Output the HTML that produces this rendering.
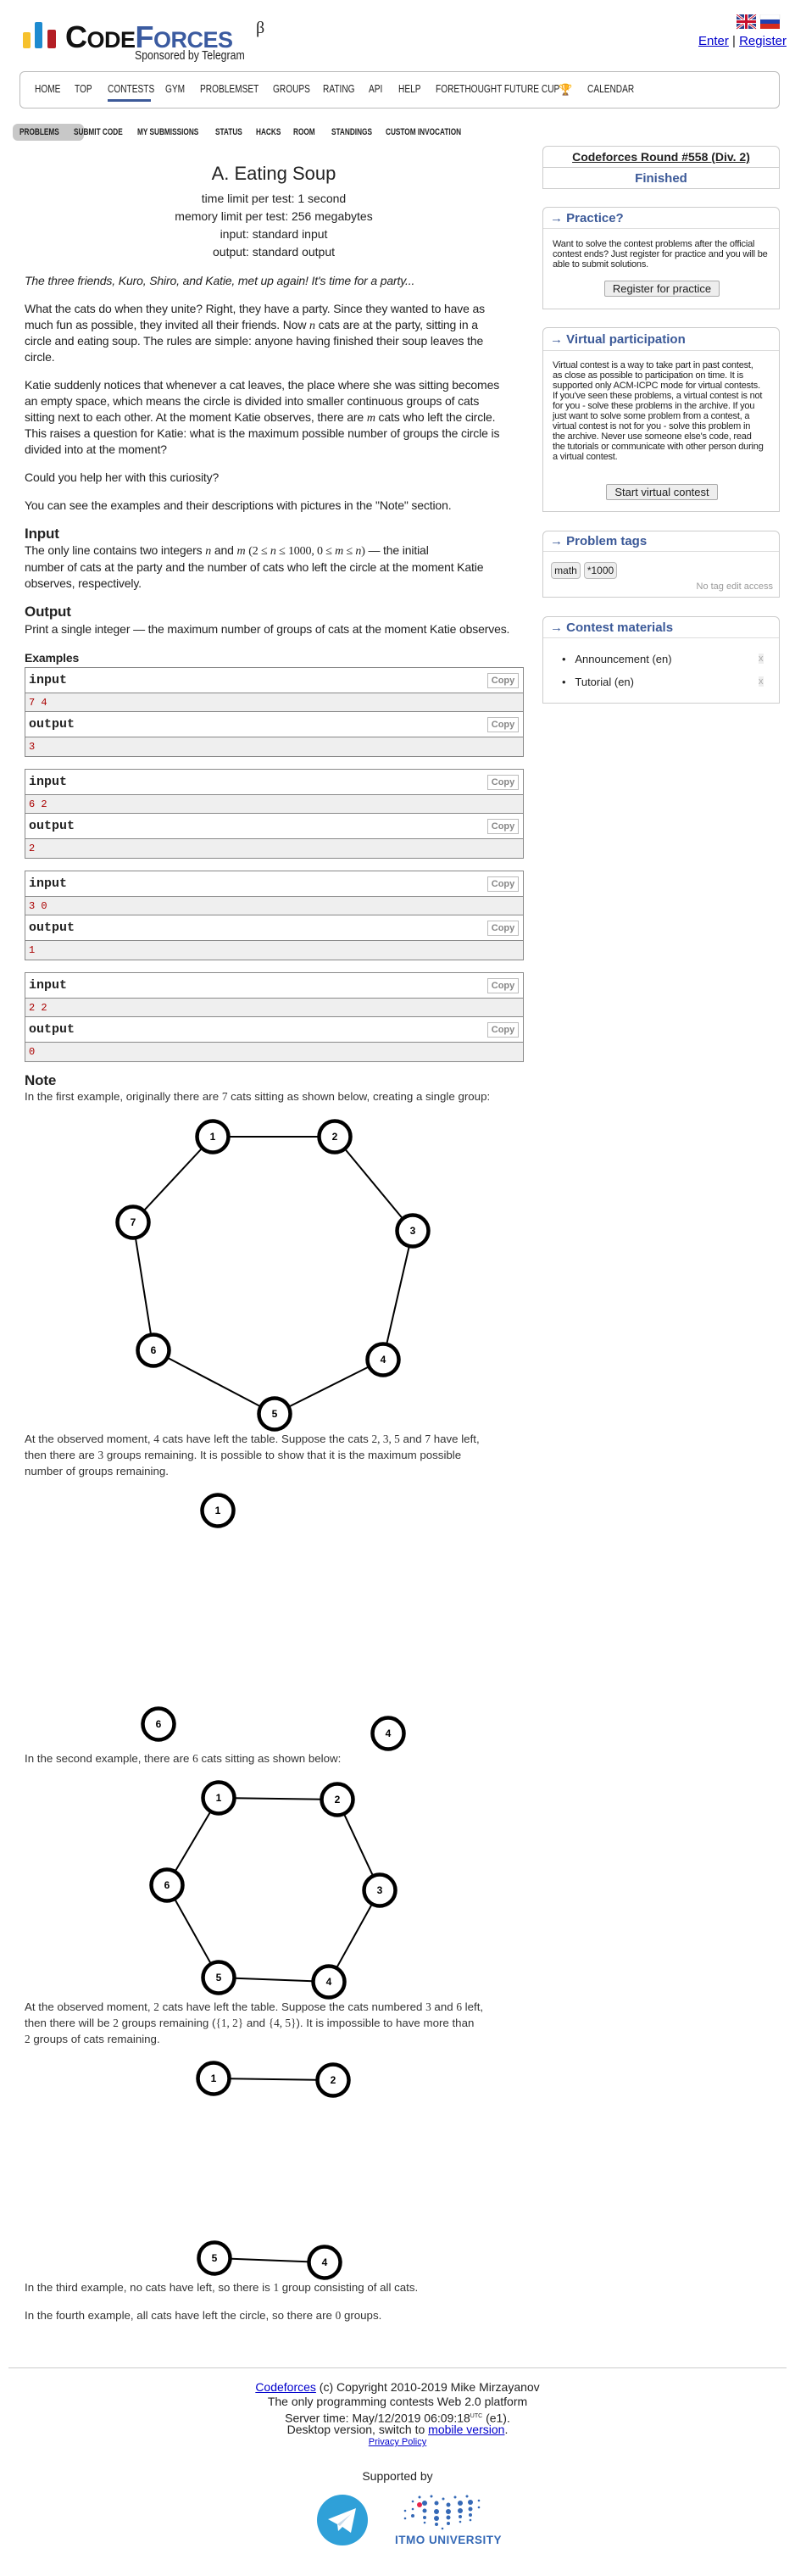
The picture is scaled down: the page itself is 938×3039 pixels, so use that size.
<!DOCTYPE html>
<html><head><meta charset="utf-8">
<style>
*{margin:0;padding:0;box-sizing:border-box}
body{width:938px;height:3039px;position:relative;background:#fff;font-family:"Liberation Sans",Arial,sans-serif;color:#222;overflow:hidden}
.t{position:absolute;white-space:nowrap;line-height:20px;height:20px}
.m{font-size:14px;letter-spacing:-0.15px;left:29px}
.n{font-size:13.3px;left:29px;color:#333}
.i{font-family:"Liberation Serif",serif;font-style:italic}
.r{font-family:"Liberation Serif",serif}
.menu{position:absolute;top:97px;font-size:13px;transform:scaleX(.78);transform-origin:left;color:#222;white-space:nowrap}
.sub{position:absolute;top:150px;font-size:11px;font-weight:bold;transform:scaleX(.75);transform-origin:left;color:#222;white-space:nowrap}
.box{position:absolute;left:640px;width:280px;border:1px solid #ccc;border-radius:6px 6px 0 0;background:#fff}
.bh{border-bottom:1px solid #ddd;color:#3b5998;font-weight:bold;font-size:15px;padding-left:8px;transform-origin:left}
.sm{font-size:11px;line-height:12px;color:#222;letter-spacing:-0.2px}
.btn{position:absolute;border:1px solid #aaa;background:#eee;font-size:13px;text-align:center;border-radius:2px}
.ex{position:absolute;left:29px;width:589px;border:1px solid #888}
.ex .h{height:30px;background:#fff;border-bottom:1px solid #888;position:relative;font-family:"Liberation Mono",monospace;font-weight:bold;font-size:15px;line-height:30px;padding-left:4px}
.ex .d{height:22px;background:#efefef;border-bottom:1px solid #888;font-family:"Liberation Mono",monospace;font-size:12px;color:#a00;line-height:22px;padding-left:4px}
.ex .d.l{border-bottom:none}
.cp{position:absolute;right:5px;top:6px;width:37px;height:18px;border:1px solid #bbb;font-size:11px;line-height:16px;color:#888;text-align:center;font-family:"Liberation Sans",sans-serif;font-weight:bold}
a{color:#00c}
.ft{position:absolute;left:0;width:938px;text-align:center;font-size:14px;line-height:17px;color:#222}
</style></head><body>

<!-- logo -->
<div style="position:absolute;left:27px;top:38px;width:9px;height:19px;background:#f6c12d;border-radius:2px"></div>
<div style="position:absolute;left:41px;top:26px;width:9px;height:31px;background:#1e8bd0;border-radius:2px"></div>
<div style="position:absolute;left:56px;top:35px;width:10px;height:22px;background:#b41e25;border-radius:2px"></div>
<div style="position:absolute;left:77px;top:26px;font-weight:bold;white-space:nowrap;line-height:36px;letter-spacing:-0.5px"><span style="font-size:36px;color:#111">C</span><span style="font-size:27px;color:#111">ODE</span><span style="font-size:36px;color:#3b5ba0">F</span><span style="font-size:27px;color:#3b5ba0">ORCES</span></div>
<div style="position:absolute;left:302px;top:22px;font-size:20px;font-family:'Liberation Serif',serif">β</div>
<div style="position:absolute;left:159px;top:57px;font-size:15px;transform:scaleX(.82);transform-origin:left;white-space:nowrap">Sponsored by Telegram</div>

<!-- flags -->
<svg style="position:absolute;left:869px;top:17px" width="52" height="18">
<rect x="0" y="0" width="23" height="17" fill="#2a3f8c"/><path d="M0 0L23 17M23 0L0 17" stroke="#fff" stroke-width="3"/><path d="M0 0L23 17M23 0L0 17" stroke="#c8102e" stroke-width="1"/><rect x="9" y="0" width="5" height="17" fill="#fff"/><rect x="0" y="6" width="23" height="5" fill="#fff"/><rect x="10" y="0" width="3" height="17" fill="#c8102e"/><rect x="0" y="7" width="23" height="3" fill="#c8102e"/>
<rect x="28" y="0" width="23" height="6" fill="#fff" stroke="#ddd" stroke-width=".5"/><rect x="28" y="6" width="23" height="5" fill="#2040b0"/><rect x="28" y="11" width="23" height="6" fill="#d52b1e"/>
</svg>
<div class="t" style="left:824px;top:39px;font-size:15px"><a href="#">Enter</a> | <a href="#">Register</a></div>

<!-- main menu -->
<div style="position:absolute;left:23px;top:84px;width:897px;height:44px;border:1px solid #bbb;border-radius:6px"></div>
<div class="menu" style="left:41px">HOME</div>
<div class="menu" style="left:88px">TOP</div>
<div class="menu" style="left:127px">CONTESTS</div>
<div style="position:absolute;left:127px;top:117px;width:51px;height:3px;background:#3b5998"></div>
<div class="menu" style="left:195px">GYM</div>
<div class="menu" style="left:236px">PROBLEMSET</div>
<div class="menu" style="left:322px">GROUPS</div>
<div class="menu" style="left:381px">RATING</div>
<div class="menu" style="left:435px">API</div>
<div class="menu" style="left:470px">HELP</div>
<div class="menu" style="left:514px">FORETHOUGHT FUTURE CUP</div>
<div style="position:absolute;left:659px;top:98px;font-size:13px;color:#c9a227">🏆</div>
<div class="menu" style="left:693px">CALENDAR</div>

<!-- submenu -->
<div style="position:absolute;left:15px;top:146px;width:84px;height:20px;background:#c8c8c8;border-radius:6px"></div>
<div class="sub" style="left:23px">PROBLEMS</div>
<div class="sub" style="left:87px">SUBMIT CODE</div>
<div class="sub" style="left:162px">MY SUBMISSIONS</div>
<div class="sub" style="left:254px">STATUS</div>
<div class="sub" style="left:302px">HACKS</div>
<div class="sub" style="left:346px">ROOM</div>
<div class="sub" style="left:391px">STANDINGS</div>
<div class="sub" style="left:455px">CUSTOM INVOCATION</div>

<!-- right column -->
<div class="box" style="top:172px;height:51px">
 <div style="height:25px;border-bottom:1px solid #ccc;text-align:center;font-weight:bold;font-size:14px;line-height:24px;text-decoration:underline">Codeforces Round #558 (Div. 2)</div>
 <div style="text-align:center;color:#3b5998;font-weight:bold;font-size:15px;line-height:25px">Finished</div>
</div>
<div class="box" style="top:244px;height:121px">
 <div class="bh" style="height:25px;line-height:25px">→ Practice?</div>
 <div class="sm" style="position:absolute;left:11px;top:37px;width:262px">Want to solve the contest problems after the official contest ends? Just register for practice and you will be able to submit solutions.</div>
 <div class="btn" style="left:72px;top:86px;width:136px;height:19px;line-height:17px">Register for practice</div>
</div>
<div class="box" style="top:386px;height:218px">
 <div class="bh" style="height:27px;line-height:27px">→ Virtual participation</div>
 <div class="sm" style="position:absolute;left:11px;top:38px;width:250px">Virtual contest is a way to take part in past contest, as close as possible to participation on time. It is supported only ACM-ICPC mode for virtual contests. If you've seen these problems, a virtual contest is not for you - solve these problems in the archive. If you just want to solve some problem from a contest, a virtual contest is not for you - solve this problem in the archive. Never use someone else's code, read the tutorials or communicate with other person during a virtual contest.</div>
 <div class="btn" style="left:74px;top:184px;width:132px;height:19px;line-height:17px">Start virtual contest</div>
</div>
<div class="box" style="top:626px;height:79px">
 <div class="bh" style="height:24px;line-height:24px">→ Problem tags</div>
 <div style="position:absolute;left:9px;top:36px;width:35px;height:20px;border:1px solid #bbb;border-radius:4px;background:#eee;font-size:12px;line-height:18px;text-align:center">math</div>
 <div style="position:absolute;left:48px;top:36px;width:39px;height:20px;border:1px solid #bbb;border-radius:4px;background:#eee;font-size:12px;line-height:18px;text-align:center">*1000</div>
 <div style="position:absolute;right:7px;top:59px;font-size:11px;color:#999">No tag edit access</div>
</div>
<div class="box" style="top:727px;height:103px">
 <div class="bh" style="height:25px;line-height:25px">→ Contest materials</div>
 <div style="position:absolute;left:22px;top:42px;font-size:13px">•&nbsp;&nbsp;&nbsp;Announcement (en)</div>
 <div style="position:absolute;left:22px;top:69px;font-size:13px">•&nbsp;&nbsp;&nbsp;Tutorial (en)</div>
 <div style="position:absolute;left:254px;top:43px;font-size:11px;color:#aaa;background:#eee">x</div>
 <div style="position:absolute;left:254px;top:70px;font-size:11px;color:#aaa;background:#eee">x</div>
</div>

<!-- problem header -->
<div class="t" style="left:0;width:646px;text-align:center;top:192px;height:26px;line-height:26px;font-size:22px">A. Eating Soup</div>
<div class="t" style="left:0;width:646px;text-align:center;top:224px;font-size:14px">time limit per test: 1 second</div>
<div class="t" style="left:0;width:646px;text-align:center;top:245px;font-size:14px">memory limit per test: 256 megabytes</div>
<div class="t" style="left:0;width:646px;text-align:center;top:266px;font-size:14px">input: standard input</div>
<div class="t" style="left:0;width:646px;text-align:center;top:287px;font-size:14px">output: standard output</div>

<div class="t m" style="top:321px;font-style:italic">The three friends, Kuro, Shiro, and Katie, met up again! It's time for a party...</div>
<div class="t m" style="top:354px">What the cats do when they unite? Right, they have a party. Since they wanted to have as</div>
<div class="t m" style="top:373px">much fun as possible, they invited all their friends. Now <span class="i">n</span> cats are at the party, sitting in a</div>
<div class="t m" style="top:392px">circle and eating soup. The rules are simple: anyone having finished their soup leaves the</div>
<div class="t m" style="top:411px">circle.</div>
<div class="t m" style="top:444px">Katie suddenly notices that whenever a cat leaves, the place where she was sitting becomes</div>
<div class="t m" style="top:463px">an empty space, which means the circle is divided into smaller continuous groups of cats</div>
<div class="t m" style="top:482px">sitting next to each other. At the moment Katie observes, there are <span class="i">m</span> cats who left the circle.</div>
<div class="t m" style="top:501px">This raises a question for Katie: what is the maximum possible number of groups the circle is</div>
<div class="t m" style="top:520px">divided into at the moment?</div>
<div class="t m" style="top:553px">Could you help her with this curiosity?</div>
<div class="t m" style="top:586px">You can see the examples and their descriptions with pictures in the "Note" section.</div>
<div class="t m" style="top:620px;font-size:17px;font-weight:bold">Input</div>
<div class="t m" style="top:639px">The only line contains two integers <span class="i">n</span> and <span class="i">m</span> <span class="r">(2 ≤ <i>n</i> ≤ 1000, 0 ≤ <i>m</i> ≤ <i>n</i>)</span> — the initial</div>
<div class="t m" style="top:659px">number of cats at the party and the number of cats who left the circle at the moment Katie</div>
<div class="t m" style="top:678px">observes, respectively.</div>
<div class="t m" style="top:712px;font-size:17px;font-weight:bold">Output</div>
<div class="t m" style="top:732px">Print a single integer — the maximum number of groups of cats at the moment Katie observes.</div>
<div class="t m" style="top:766px;font-size:14px;font-weight:bold">Examples</div>

<div class="ex" style="top:787px"><div class="h">input<div class="cp">Copy</div></div><div class="d">7 4</div><div class="h">output<div class="cp">Copy</div></div><div class="d l">3</div></div>
<div class="ex" style="top:907px"><div class="h">input<div class="cp">Copy</div></div><div class="d">6 2</div><div class="h">output<div class="cp">Copy</div></div><div class="d l">2</div></div>
<div class="ex" style="top:1027px"><div class="h">input<div class="cp">Copy</div></div><div class="d">3 0</div><div class="h">output<div class="cp">Copy</div></div><div class="d l">1</div></div>
<div class="ex" style="top:1147px"><div class="h">input<div class="cp">Copy</div></div><div class="d">2 2</div><div class="h">output<div class="cp">Copy</div></div><div class="d l">0</div></div>

<div class="t m" style="top:1265px;font-size:17px;font-weight:bold">Note</div>
<div class="t n" style="top:1284px">In the first example, originally there are <span class="r">7</span> cats sitting as shown below, creating a single group:</div>
<div class="t n" style="top:1688px">At the observed moment, <span class="r">4</span> cats have left the table. Suppose the cats <span class="r">2, 3, 5</span> and <span class="r">7</span> have left,</div>
<div class="t n" style="top:1707px">then there are <span class="r">3</span> groups remaining. It is possible to show that it is the maximum possible</div>
<div class="t n" style="top:1726px">number of groups remaining.</div>
<div class="t n" style="top:2065px">In the second example, there are <span class="r">6</span> cats sitting as shown below:</div>
<div class="t n" style="top:2358px">At the observed moment, <span class="r">2</span> cats have left the table. Suppose the cats numbered <span class="r">3</span> and <span class="r">6</span> left,</div>
<div class="t n" style="top:2377px">then there will be <span class="r">2</span> groups remaining (<span class="r">{1, 2}</span> and <span class="r">{4, 5}</span>). It is impossible to have more than</div>
<div class="t n" style="top:2396px"><span class="r">2</span> groups of cats remaining.</div>
<div class="t n" style="top:2689px">In the third example, no cats have left, so there is <span class="r">1</span> group consisting of all cats.</div>
<div class="t n" style="top:2722px">In the fourth example, all cats have left the circle, so there are <span class="r">0</span> groups.</div>

<svg style="position:absolute;left:0;top:0" width="938" height="3039" font-family="Liberation Sans, sans-serif" font-weight="bold" font-size="12" text-anchor="middle">
<g stroke="#000" stroke-width="2" fill="none">
<polyline points="251,1341 395,1341 487,1452 452,1604 324,1668 181,1593 157,1442 251,1341"/>
<polyline points="258,2121 398,2123 448,2230 388,2338 258,2333 197,2224 258,2121"/>
<line x1="252" y1="2452" x2="393" y2="2454"/>
<line x1="253" y1="2664" x2="383" y2="2669"/>
</g>
<g stroke="#000" stroke-width="4.5" fill="#fff">
<circle cx="251" cy="1341" r="18.5"/><circle cx="395" cy="1341" r="18.5"/><circle cx="487" cy="1452" r="18.5"/><circle cx="452" cy="1604" r="18.5"/><circle cx="324" cy="1668" r="18.5"/><circle cx="181" cy="1593" r="18.5"/><circle cx="157" cy="1442" r="18.5"/>
<circle cx="257" cy="1782" r="18.5"/><circle cx="187" cy="2034" r="18.5"/><circle cx="458" cy="2045" r="18.5"/>
<circle cx="258" cy="2121" r="18.5"/><circle cx="398" cy="2123" r="18.5"/><circle cx="448" cy="2230" r="18.5"/><circle cx="388" cy="2338" r="18.5"/><circle cx="258" cy="2333" r="18.5"/><circle cx="197" cy="2224" r="18.5"/>
<circle cx="252" cy="2452" r="18.5"/><circle cx="393" cy="2454" r="18.5"/>
<circle cx="253" cy="2664" r="18.5"/><circle cx="383" cy="2669" r="18.5"/>
</g>
<g fill="#000">
<text x="251" y="1345">1</text><text x="395" y="1345">2</text><text x="487" y="1456">3</text><text x="452" y="1608">4</text><text x="324" y="1672">5</text><text x="181" y="1597">6</text><text x="157" y="1446">7</text>
<text x="257" y="1786">1</text><text x="187" y="2038">6</text><text x="458" y="2049">4</text>
<text x="258" y="2125">1</text><text x="398" y="2127">2</text><text x="448" y="2234">3</text><text x="388" y="2342">4</text><text x="258" y="2337">5</text><text x="197" y="2228">6</text>
<text x="252" y="2456">1</text><text x="393" y="2458">2</text>
<text x="253" y="2668">5</text><text x="383" y="2673">4</text>
</g>
</svg>

<!-- footer -->
<div style="position:absolute;left:10px;top:2793px;width:918px;height:1px;background:#ccc"></div>
<div class="ft" style="top:2808px"><a href="#">Codeforces</a> (c) Copyright 2010-2019 Mike Mirzayanov</div>
<div class="ft" style="top:2825px">The only programming contests Web 2.0 platform</div>
<div class="ft" style="top:2842px">Server time: May/12/2019 06:09:18<sup style="font-size:7px">UTC</sup> (e1).</div>
<div class="ft" style="top:2858px">Desktop version, switch to <a href="#">mobile version</a>.</div>
<div class="ft" style="top:2875px;font-size:11px;line-height:13px"><a href="#">Privacy Policy</a></div>
<div class="ft" style="top:2913px">Supported by</div>
<svg style="position:absolute;left:370px;top:2940px" width="230" height="66">
<circle cx="34" cy="33" r="30" fill="#2fa0d8"/>
<path d="M17 32 L50 19 L44 48 L34 41 L29 46 L28 38 Z" fill="#fff"/>
<path d="M28 38 L44 26 L31 40 Z" fill="#c8daea"/>
<g fill="#3569b6">
<circle cx="125" cy="6" r="1.5"/><circle cx="139" cy="5" r="1.5"/><circle cx="153" cy="8" r="1.5"/><circle cx="167" cy="6" r="1.5"/><circle cx="181" cy="5" r="1.5"/>
<circle cx="117" cy="11" r="1.3"/><circle cx="131" cy="13" r="3"/><circle cx="145" cy="13" r="2.5"/><circle cx="159" cy="15" r="2.5"/><circle cx="173" cy="13" r="3"/><circle cx="185" cy="12" r="3"/><circle cx="195" cy="10" r="1.3"/>
<circle cx="117" cy="20" r="1.3"/><circle cx="131" cy="22" r="2.5"/><circle cx="145" cy="23" r="3"/><circle cx="159" cy="23" r="3"/><circle cx="173" cy="22" r="3"/><circle cx="185" cy="20" r="2.5"/><circle cx="195" cy="18" r="1.3"/>
<circle cx="108" cy="22" r="1.3"/><circle cx="117" cy="28" r="2"/><circle cx="131" cy="30" r="2"/><circle cx="145" cy="31" r="3"/><circle cx="159" cy="30" r="2.5"/><circle cx="173" cy="29" r="2"/><circle cx="185" cy="27" r="2"/>
<circle cx="108" cy="31" r="1.3"/><circle cx="145" cy="38" r="2"/><circle cx="159" cy="37" r="2"/><circle cx="131" cy="36" r="1.3"/><circle cx="173" cy="35" r="1.3"/><circle cx="185" cy="33" r="1.3"/><circle cx="152" cy="43" r="1.3"/>
</g>
<circle cx="125" cy="15" r="3" fill="#e8254a"/>
<text x="96" y="61" font-family="Liberation Sans, sans-serif" font-weight="bold" font-size="13.5" fill="#3569b6" letter-spacing="0.5">ITMO UNIVERSITY</text>
</svg>
</body></html>
